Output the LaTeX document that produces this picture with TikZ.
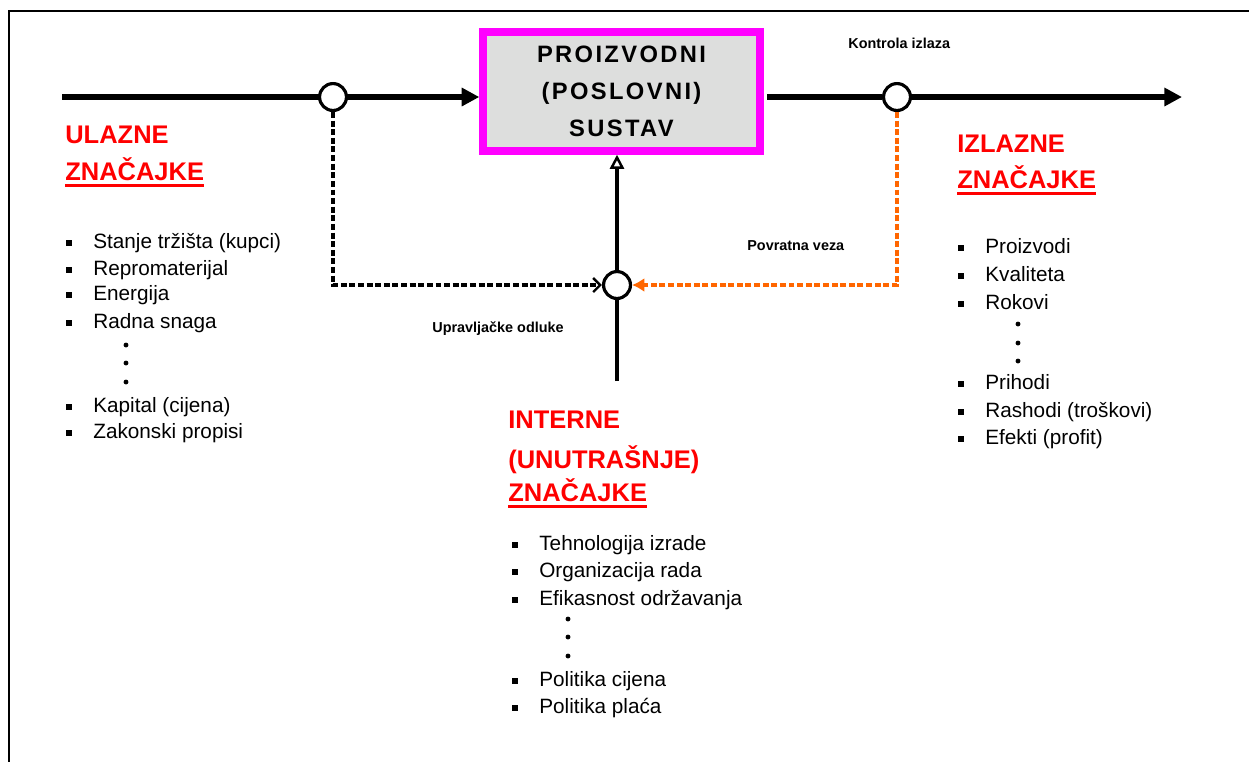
\documentclass[tikz,border=0pt]{standalone}
\usepackage{fontspec}
\setmainfont{Liberation Sans}
\newfontfamily\boxfont{Liberation Sans}[LetterSpace=10]
\usepackage{xcolor}
\usetikzlibrary{arrows.meta}

\definecolor{framepink}{RGB}{255,0,255}
\definecolor{boxgray}{RGB}{221,222,221}
\definecolor{fborange}{RGB}{255,102,0}

\tikzset{
	joint/.style={circle, draw, fill=white, line width=1.8pt, minimum size=15.3pt, inner sep=0pt},
	flow/.style={line width=3pt},
	stem/.style={line width=2.2pt},
	ctrl/.style={line width=2.6pt, dash pattern=on 3.4pt off 1.5pt, -{Straight Barb[length=4pt, width=8pt, line width=1.4pt]}},
	feedback/.style={fborange, line width=2.6pt, dash pattern=on 3.4pt off 1.5pt, -{Latex[length=7pt, width=8pt]}},
	sustavbox/.style={draw=framepink, line width=4.25pt, fill=boxgray, minimum width=5.54cm, minimum height=2.38cm, align=center, font=\boxfont\bfseries\fontsize{13.5}{21}\selectfont},
	head/.style={anchor=base west, inner sep=0pt, text=red, font=\bfseries\fontsize{14.5}{17}\selectfont},
	redline/.style={red, line width=1.8pt},
	note/.style={anchor=base west, inner sep=0pt, font=\bfseries\fontsize{8.2}{10}\selectfont},
	item/.style={anchor=base west, inner sep=0pt, font=\fontsize{11.8}{14}\selectfont, execute at begin node={\llap{\rule[1.3pt]{3.5pt}{3.5pt}\hspace{12.3pt}}}}
}

\begin{document}
\begin{tikzpicture}[x=0.02cm, y=-0.02cm]
	\useasboundingbox (0,0) rectangle (1249,762);
	\draw [line width=1.1pt] (1249,11) -- (9,11) -- (9,762);

	\node [sustavbox] (sustav) at (621.5,91.5) {PROIZVODNI\\(POSLOVNI)\\SUSTAV};

	\node [joint] (ulaz) at (333,97) {};
	\node [joint] (izlaz) at (897,97) {};
	\node [joint] (odluka) at (617,285) {};

	\coordinate (start) at (62,97);
	\coordinate (end) at (1182,97);
	\coordinate (intern) at (617,381);

	\draw [flow] (start) -- (ulaz);
	\draw [flow, -{Triangle[length=10pt, width=10pt]}] (ulaz) -- (ulaz -| sustav.west);
	\draw [flow] ([xshift=2pt]sustav.east |- izlaz) -- (izlaz);
	\draw [flow, -{Triangle[length=10pt, width=10pt]}] (izlaz) -- (end);

	\draw [stem] (intern) -- (odluka);
	\draw [stem, -{Triangle[open, length=8pt, width=8pt, line width=1.4pt]}] (odluka) -- (odluka |- sustav.south);

	\draw [ctrl] (ulaz) |- (odluka);
	\draw [feedback] (izlaz) |- (odluka);

	\node [note] (kontrola) at (848,48) {Kontrola izlaza};
	\node [note] (povratna) at (747,250) {Povratna veza};
	\node [note] (upravljanje) at (432,332) {Upravljačke odluke};

	% naslovi
	\node [head] (ulazne) at (65,143) {ULAZNE};
	\node [head] (ulzn) at (65,180) {ZNAČAJKE};
	\draw [redline] ([yshift=-2.6pt]ulzn.south west) -- ([yshift=-2.6pt]ulzn.south east);

	\node [head] (izlazne) at (957,152) {IZLAZNE};
	\node [head] (izzn) at (957,188) {ZNAČAJKE};
	\draw [redline] ([yshift=-2.6pt]izzn.south west) -- ([yshift=-2.6pt]izzn.south east);

	\node [head] (interne) at (508,428) {INTERNE};
	\node [head] (unutarnje) at (508,468) {(UNUTRAŠNJE)};
	\node [head] (inzn) at (508,501) {ZNAČAJKE};
	\draw [redline] ([yshift=-2.8pt]inzn.south west) -- ([yshift=-2.8pt]inzn.south east);

	% popisi
	\foreach \y/\t [count=\i] in {248/{Stanje tržišta (kupci)}, 275/Repromaterijal, 300/Energija, 328/{Radna snaga}, 412/{Kapital (cijena)}, 438/{Zakonski propisi}}
		\node [item] (ul\i) at (93,\y) {\t};
	\foreach \y/\t [count=\i] in {253/Proizvodi, 281/Kvaliteta, 309/Rokovi, 389/Prihodi, 417/{Rashodi (troškovi)}, 444/{Efekti (profit)}}
		\node [item] (iz\i) at (985,\y) {\t};
	\foreach \y/\t [count=\i] in {550/{Tehnologija izrade}, 577/{Organizacija rada}, 605/{Efikasnost održavanja}, 686/{Politika cijena}, 713/{Politika plaća}}
		\node [item] (in\i) at (539,\y) {\t};

	\foreach \y in {345,363,382} \fill (126,\y) circle [radius=1.4pt];
	\foreach \y in {324,343,361} \fill (1018,\y) circle [radius=1.4pt];
	\foreach \y in {619,637,656} \fill (568,\y) circle [radius=1.4pt];
\end{tikzpicture}
\end{document}
